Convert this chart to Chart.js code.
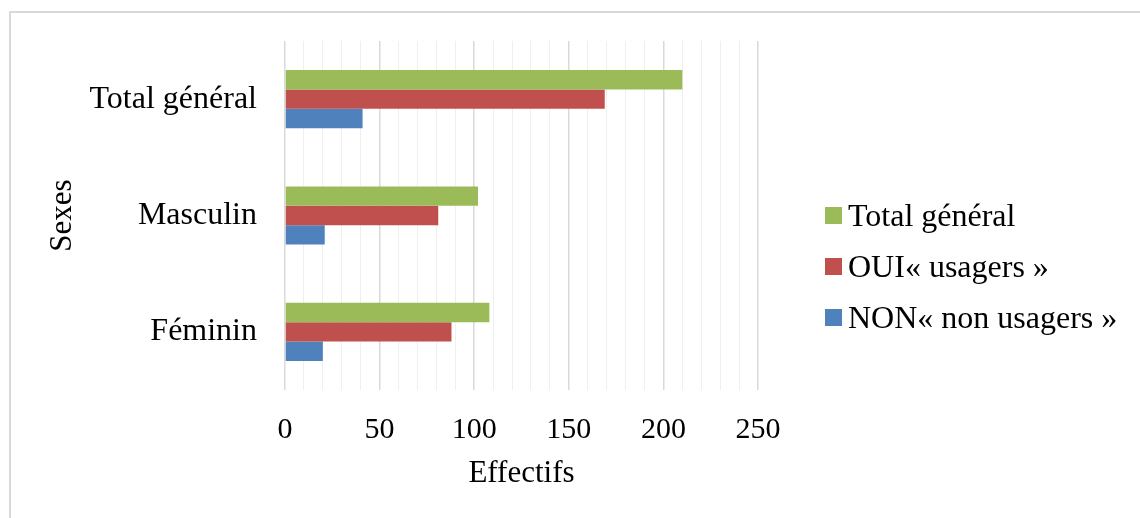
<!DOCTYPE html>
<html lang="fr">
<head>
<meta charset="utf-8">
<title>Effectifs par sexe</title>
<script src="https://cdn.jsdelivr.net/npm/chart.js@4/dist/chart.umd.min.js"></script>
<style>
  html, body { margin: 0; padding: 0; background: #fff; }
  #frame {
    position: absolute; left: 9px; top: 11px; right: 0; bottom: 0;
    border-top: 2px solid #d9d9d9; border-left: 2px solid #d9d9d9;
  }
  #wrap { position: absolute; left: 0; top: 0; width: 1140px; height: 518px; }
  #legend {
    position: absolute; left: 825px; top: 190px;
    font-family: "Liberation Serif", "Times New Roman", serif;
    font-size: 32px; color: #000;
  }
  #legend .item { display: flex; align-items: center; height: 51px; white-space: nowrap; }
  #legend .box { width: 17px; height: 17px; margin-right: 6px; flex: none; }
</style>
</head>
<body>
<div id="frame"></div>
<div id="wrap"><canvas id="chart" width="1140" height="518"></canvas></div>
<div id="legend"></div>
<script>
// categories, top to bottom
const categories = ['Total général', 'Masculin', 'Féminin'];

// series
const seriesNames = ['Total général', 'OUI« usagers »', 'NON« non usagers »'];
const totalGeneral = [210, 102, 108];
const ouiUsagers = [169, 81, 88];
const nonUsagers = [41, 21, 20];

// axis
const xMax = 250;
const majorStep = 50;
const minorStep = 10;

const colors = ['#9bbb59', '#c0504d', '#4f81bd'];
const serif = '"Liberation Serif", "Times New Roman", serif';

const values = [totalGeneral, ouiUsagers, nonUsagers];

const chart = new Chart(document.getElementById('chart'), {
  type: 'bar',
  data: {
    labels: categories,
    datasets: seriesNames.map((name, i) => ({
      label: name,
      data: values[i],
      backgroundColor: colors[i],
      borderWidth: 0,
      categoryPercentage: 0.5,
      barPercentage: 1.0
    }))
  },
  options: {
    indexAxis: 'y',
    responsive: false,
    animation: false,
    layout: { padding: { top: 41, left: 40, right: 382, bottom: 26 } },
    plugins: {
      legend: { display: false },
      tooltip: { enabled: false }
    },
    scales: {
      x: {
        min: 0,
        max: xMax,
        border: { display: false },
        grid: {
          drawTicks: false,
          color: ctx => (ctx.tick && ctx.tick.value % majorStep === 0) ? '#d9d9d9' : '#efefef',
          lineWidth: ctx => (ctx.tick && ctx.tick.value % majorStep === 0) ? 1.5 : 1
        },
        ticks: {
          stepSize: minorStep,
          autoSkip: false,
          maxRotation: 0,
          padding: 22,
          color: '#000',
          font: { family: serif, size: 30 },
          callback: v => (v % majorStep === 0 ? v : '')
        },
        title: {
          display: true,
          text: 'Effectifs',
          color: '#000',
          font: { family: serif, size: 31 },
          padding: { top: 0, bottom: 0 }
        },
        // keep plot bottom where the original has it
        afterFit: scale => { scale.height = 102; }
      },
      y: {
        border: { display: false },
        grid: { display: false, drawTicks: false },
        ticks: {
          padding: 28,
          color: '#000',
          font: { family: serif, size: 32 }
        },
        title: {
          display: true,
          text: 'Sexes',
          color: '#000',
          font: { family: serif, size: 31 },
          padding: { top: 4, bottom: 4 }
        },
        afterFit: scale => {
          scale.width = 245;
          // tick padding would otherwise push the plot top down
          scale.paddingTop = 0;
          scale.paddingBottom = 0;
        }
      }
    }
  }
});

// html legend built from the chart's datasets
const legendEl = document.getElementById('legend');
chart.data.datasets.forEach(ds => {
  const row = document.createElement('div');
  row.className = 'item';
  const box = document.createElement('span');
  box.className = 'box';
  box.style.background = ds.backgroundColor;
  const txt = document.createElement('span');
  txt.textContent = ds.label;
  row.appendChild(box);
  row.appendChild(txt);
  legendEl.appendChild(row);
});
</script>
</body>
</html>
